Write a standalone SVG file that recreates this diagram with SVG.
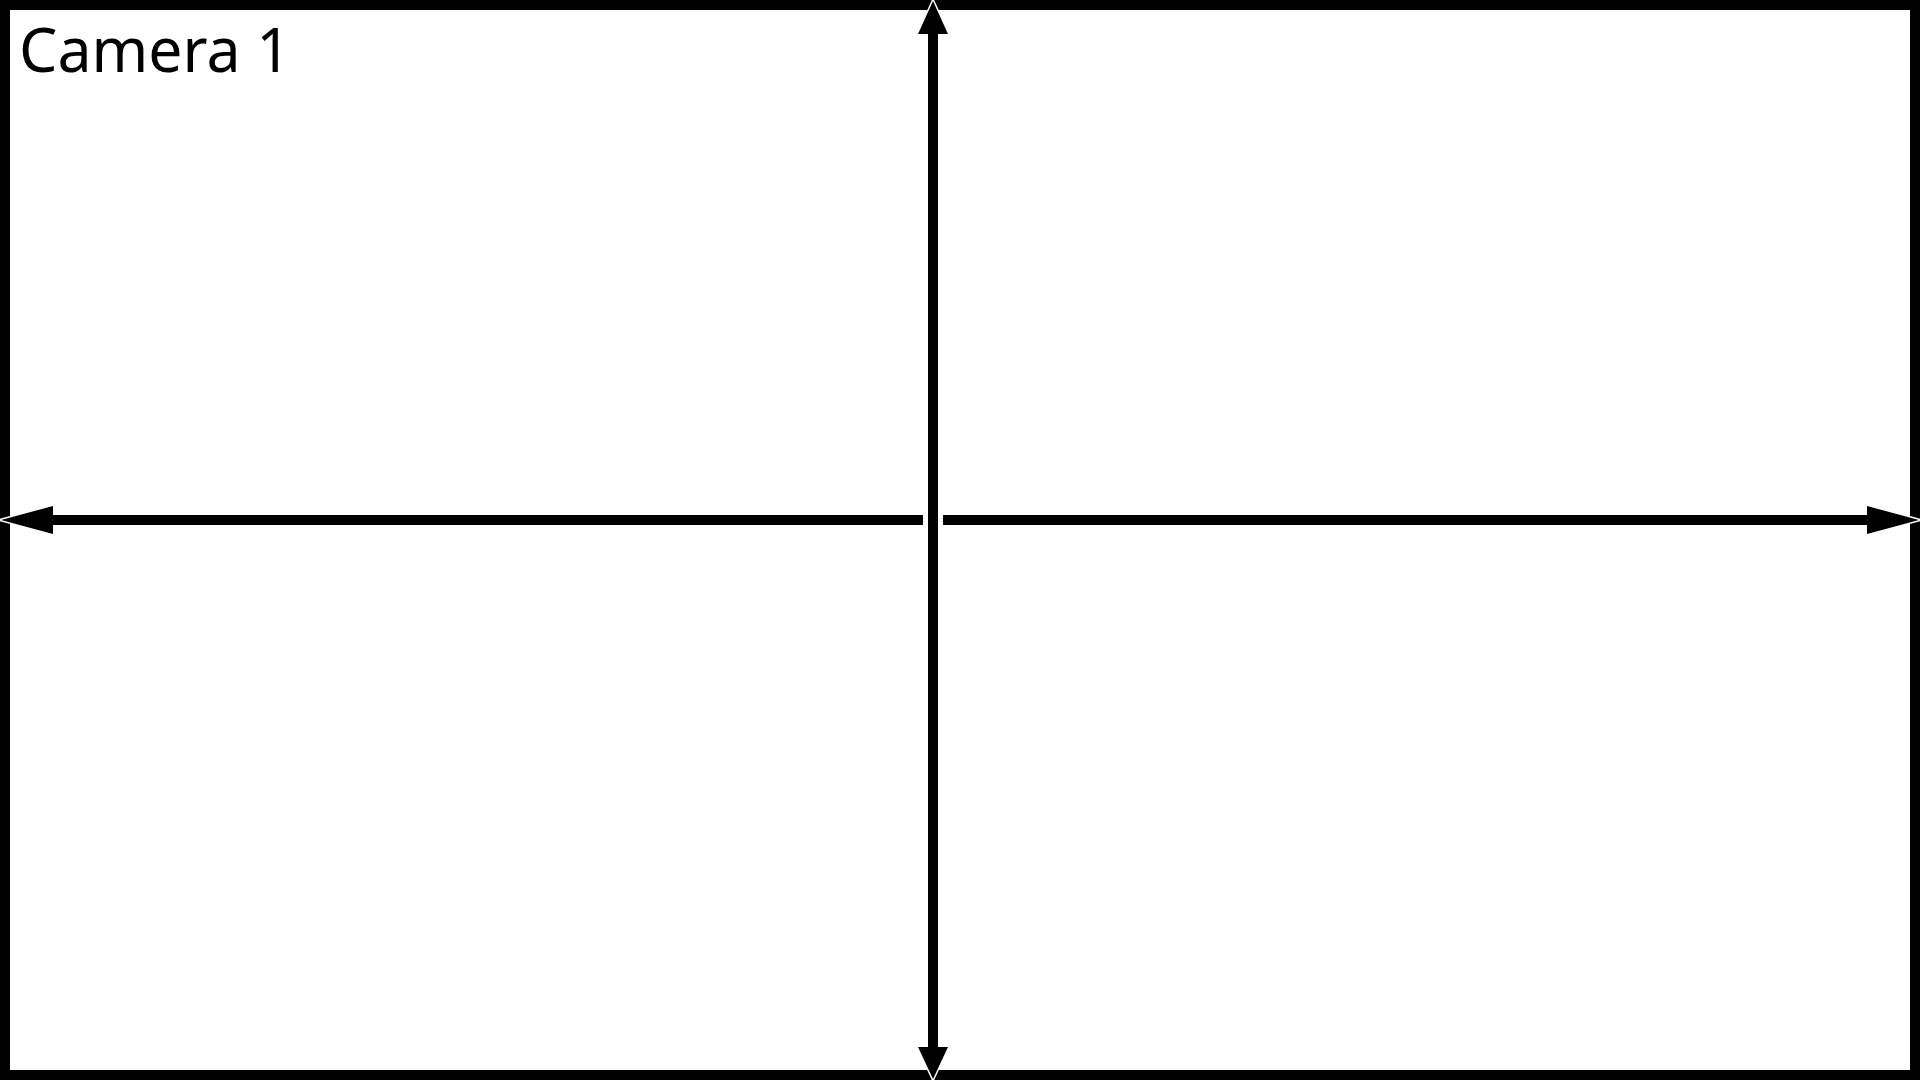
<svg xmlns="http://www.w3.org/2000/svg" width="1920" height="1080" viewBox="0 0 1920 1080">
<style>
.frame{fill:#fff;stroke:#000;stroke-width:10}
.line{stroke:#000;stroke-width:10;fill:none}
.head{fill:#000;stroke:#fff;stroke-width:3;paint-order:stroke}
.label{font-family:"Noto Sans","Open Sans",sans-serif;font-size:62px;fill:#000}
</style>
<g id="camera-frame">
<rect class="frame" x="5" y="5" width="1910" height="1070"/>
<text class="label" x="19" y="72" textLength="272" lengthAdjust="spacingAndGlyphs">Camera 1</text>
</g>
<g id="connectors">
<polygon class="head" points="933,1 918,34 948,34"/>
<polygon class="head" points="933,1079 918,1047 948,1047"/>
<polygon class="head" points="1,520 53,506 53,534"/>
<polygon class="head" points="1919,520 1867,506 1867,534"/>
<line class="line" x1="933" y1="28" x2="933" y2="1053"/>
<line class="line" x1="46" y1="520" x2="923" y2="520"/>
<line class="line" x1="943" y1="520" x2="1874" y2="520"/>
</g>
</svg>
